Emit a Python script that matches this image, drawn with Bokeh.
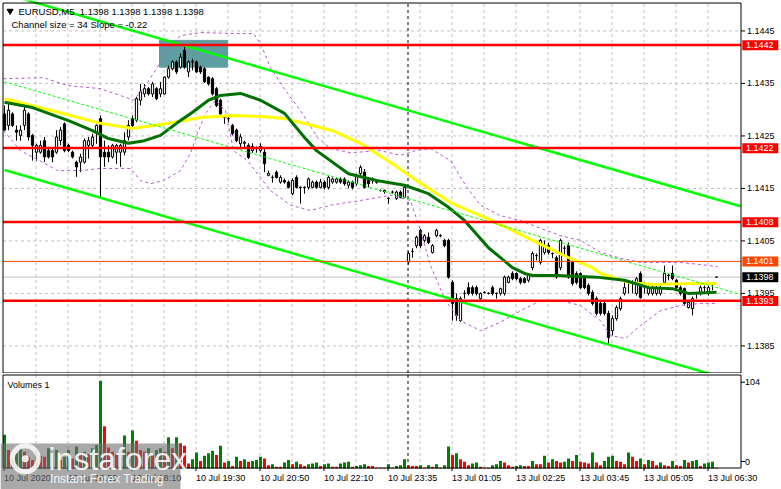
from bokeh.plotting import figure
from bokeh.layouts import column
from bokeh.models import Range1d, FixedTicker
from bokeh.core.properties import value
from bokeh.embed import file_html
from bokeh.resources import INLINE
import math

FONT = "Liberation Sans"

# ---------------- data (bar index 0..178, M5 bars) ----------------
opens = [1.14292,1.14270,1.14292,1.14261,1.14251,1.14270,1.14292,1.14251,1.14219,1.14219,
         1.14241,1.14222,1.14222,1.14219,1.14241,1.14273,1.14232,1.14219,1.14200,1.14200,
         1.14200,1.14232,1.14232,1.14257,1.14283,1.14219,1.14219,1.14210,1.14219,1.14219,
         1.14219,1.14248,1.14283,1.14280,1.14318,1.14330,1.14340,1.14330,1.14340,1.14330,
         1.14330,1.14362,1.14378,1.14391,1.14381,1.14413,1.14372,1.14391,1.14391,1.14381,
         1.14378,1.14362,1.14359,1.14340,1.14318,1.14287,1.14283,1.14270,1.14261,1.14235,
         1.14236,1.14232,1.14222,1.14228,1.14222,1.14219,1.14175,1.14171,1.14181,1.14162,
         1.14165,1.14162,1.14140,1.14171,1.14152,1.14152,1.14152,1.14152,1.14162,1.14152,
         1.14162,1.14152,1.14162,1.14162,1.14168,1.14168,1.14156,1.14162,1.14159,1.14178,
         1.14181,1.14165,1.14168,1.14162,1.14146,1.14146,1.14131,1.14143,1.14131,1.14143,
         1.14133,1.14010,1.14030,1.14041,1.14070,1.14051,1.14057,1.14028,1.14060,1.14060,
         1.14051,1.14051,1.13971,1.13940,1.13898,1.13950,1.13961,1.13961,1.13961,1.13940,
         1.13952,1.13950,1.13961,1.13950,1.13950,1.13950,1.13971,1.13988,1.13988,1.13978,
         1.13978,1.13975,1.13999,1.14022,1.14009,1.14028,1.14041,1.14026,1.14018,1.13999,
         1.14036,1.14041,1.14009,1.13988,1.13988,1.13981,1.13965,1.13952,1.13940,1.13931,
         1.13931,1.13912,1.13879,1.13902,1.13921,1.13950,1.13971,1.13971,1.13950,1.13988,
         1.13969,1.13950,1.13950,1.13950,1.13950,1.13971,1.13984,1.13988,1.13975,1.13961,
         1.13959,1.13923,1.13921,1.13950,1.13950,1.13961,1.13950,1.13969,1.13981]
highs = [1.14308,1.14314,1.14295,1.14270,1.14270,1.14308,1.14295,1.14254,1.14235,1.14241,
         1.14248,1.14226,1.14226,1.14261,1.14267,1.14276,1.14235,1.14222,1.14203,1.14216,
         1.14245,1.14248,1.14254,1.14272,1.14289,1.14241,1.14232,1.14235,1.14235,1.14235,
         1.14257,1.14280,1.14289,1.14324,1.14349,1.14349,1.14343,1.14353,1.14343,1.14353,
         1.14363,1.14384,1.14394,1.14394,1.14407,1.14422,1.14394,1.14397,1.14394,1.14384,
         1.14381,1.14363,1.14362,1.14343,1.14321,1.14289,1.14289,1.14273,1.14264,1.14254,
         1.14241,1.14236,1.14236,1.14230,1.14236,1.14225,1.14184,1.14175,1.14184,1.14175,
         1.14169,1.14165,1.14169,1.14175,1.14154,1.14154,1.14171,1.14165,1.14165,1.14168,
         1.14165,1.14175,1.14171,1.14171,1.14171,1.14171,1.14165,1.14165,1.14178,1.14194,
         1.14187,1.14168,1.14171,1.14165,1.14148,1.14148,1.14133,1.14146,1.14146,1.14146,
         1.14155,1.14030,1.14036,1.14060,1.14073,1.14063,1.14066,1.14044,1.14073,1.14063,
         1.14054,1.14054,1.13975,1.13950,1.13944,1.13956,1.13971,1.13965,1.13965,1.13952,
         1.13954,1.13952,1.13965,1.13952,1.13961,1.13984,1.13984,1.13992,1.13990,1.13981,
         1.13981,1.13988,1.14030,1.14026,1.14054,1.14051,1.14047,1.14028,1.14022,1.14054,
         1.14041,1.14047,1.14013,1.13992,1.13990,1.13984,1.13969,1.13956,1.13944,1.13936,
         1.13936,1.13917,1.13908,1.13927,1.13944,1.13975,1.13975,1.13975,1.13981,1.13992,
         1.13971,1.13965,1.13965,1.13965,1.13965,1.14003,1.13988,1.14003,1.13978,1.13965,
         1.13961,1.13936,1.13944,1.13952,1.13965,1.13965,1.13965,1.13971,1.13981]
lows = [1.14261,1.14261,1.14267,1.14241,1.14241,1.14261,1.14241,1.14203,1.14203,1.14216,
        1.14200,1.14207,1.14200,1.14216,1.14232,1.14219,1.14219,1.14207,1.14172,1.14181,
        1.14197,1.14207,1.14229,1.14235,1.14130,1.14191,1.14200,1.14207,1.14197,1.14191,
        1.14213,1.14241,1.14267,1.14276,1.14308,1.14324,1.14327,1.14324,1.14318,1.14324,
        1.14329,1.14359,1.14375,1.14368,1.14378,1.14378,1.14362,1.14375,1.14370,1.14368,
        1.14351,1.14346,1.14327,1.14305,1.14289,1.14273,1.14276,1.14251,1.14238,1.14229,
        1.14228,1.14206,1.14218,1.14218,1.14218,1.14181,1.14173,1.14161,1.14169,1.14159,
        1.14159,1.14150,1.14137,1.14150,1.14121,1.14140,1.14148,1.14150,1.14150,1.14150,
        1.14148,1.14148,1.14159,1.14159,1.14159,1.14155,1.14150,1.14148,1.14155,1.14171,
        1.14150,1.14152,1.14159,1.14159,1.14144,1.14140,1.14121,1.14140,1.14128,1.14131,
        1.14131,1.14005,1.14018,1.14036,1.14036,1.14047,1.14044,1.14026,1.14057,1.14057,
        1.14038,1.13978,1.13898,1.13898,1.13896,1.13940,1.13946,1.13946,1.13946,1.13938,
        1.13950,1.13948,1.13946,1.13940,1.13946,1.13946,1.13969,1.13975,1.13975,1.13967,
        1.13969,1.13971,1.13994,1.14013,1.14005,1.14024,1.14024,1.14017,1.13978,1.13994,
        1.14022,1.13978,1.13965,1.13967,1.13958,1.13958,1.13946,1.13927,1.13908,1.13908,
        1.13908,1.13851,1.13870,1.13898,1.13917,1.13946,1.13950,1.13950,1.13946,1.13940,
        1.13950,1.13946,1.13946,1.13946,1.13946,1.13967,1.13975,1.13975,1.13958,1.13946,
        1.13927,1.13921,1.13908,1.13940,1.13946,1.13950,1.13946,1.13956,1.13981]
closes = [1.14261,1.14299,1.14270,1.14257,1.14261,1.14299,1.14248,1.14232,1.14232,1.14232,
          1.14210,1.14210,1.14210,1.14248,1.14261,1.14222,1.14222,1.14210,1.14191,1.14210,
          1.14241,1.14241,1.14248,1.14270,1.14210,1.14210,1.14210,1.14232,1.14232,1.14232,
          1.14241,1.14270,1.14270,1.14321,1.14334,1.14340,1.14330,1.14349,1.14321,1.14340,
          1.14362,1.14378,1.14391,1.14372,1.14400,1.14381,1.14391,1.14392,1.14372,1.14372,
          1.14353,1.14349,1.14330,1.14308,1.14292,1.14285,1.14283,1.14254,1.14241,1.14248,
          1.14238,1.14209,1.14230,1.14228,1.14230,1.14197,1.14179,1.14171,1.14171,1.14171,
          1.14162,1.14152,1.14165,1.14152,1.14152,1.14152,1.14168,1.14162,1.14152,1.14162,
          1.14152,1.14171,1.14168,1.14168,1.14162,1.14159,1.14162,1.14152,1.14175,1.14190,
          1.14152,1.14159,1.14168,1.14162,1.14146,1.14144,1.14131,1.14143,1.14143,1.14133,
          1.14152,1.14026,1.14030,1.14057,1.14041,1.14060,1.14047,1.14041,1.14070,1.14060,
          1.14041,1.13981,1.13931,1.13908,1.13940,1.13950,1.13950,1.13950,1.13950,1.13950,
          1.13952,1.13950,1.13950,1.13950,1.13959,1.13981,1.13981,1.13978,1.13978,1.13971,
          1.13971,1.13984,1.14026,1.14022,1.14051,1.14041,1.14028,1.14026,1.13981,1.14051,
          1.14036,1.13981,1.13969,1.13971,1.13961,1.13961,1.13950,1.13931,1.13912,1.13912,
          1.13912,1.13866,1.13902,1.13923,1.13940,1.13961,1.13971,1.13971,1.13978,1.13942,
          1.13969,1.13961,1.13961,1.13961,1.13961,1.13988,1.13984,1.13978,1.13961,1.13950,
          1.13931,1.13933,1.13940,1.13950,1.13961,1.13961,1.13961,1.13969,1.13981]
volumes = [40,22,12,18,25,20,14,10,22,15,14,24,18,22,10,14,22,12,26,18,
           20,17,24,28,104,50,25,20,17,24,39,20,45,33,22,20,24,16,22,24,
           20,37,24,37,30,27,6,11,19,9,15,18,21,16,27,7,9,3,14,9,
           11,8,9,10,14,12,4,5,2,2,7,10,5,8,5,3,5,6,7,3,
           5,6,2,2,6,7,8,2,3,4,5,3,3,1,1,1,5,1,3,4,
           11,4,3,3,4,1,4,2,5,1,4,26,16,18,11,8,4,6,7,2,
           1,1,4,5,9,7,4,2,3,4,3,3,9,5,5,15,7,11,9,7,
           8,12,9,16,8,7,6,19,7,4,9,14,15,9,8,5,19,14,9,12,
           5,10,9,4,7,4,3,9,4,3,10,7,9,10,3,6,7,8,1]

# moving averages (bar index, price)
ma_fast_i = [0, 7, 16, 22, 26, 31, 35, 39, 43, 47, 51, 54, 59, 64, 70, 75, 78, 86, 93, 100,
             106, 111, 115, 121, 124, 127, 130, 132, 138, 148, 155, 161, 167, 171, 178]
ma_fast_p = [1.14314, 1.14304, 1.14279, 1.14260, 1.14245, 1.14236, 1.14241, 1.14251, 1.14274, 1.14295,
             1.14318, 1.14327, 1.14331, 1.14318, 1.14293, 1.14247, 1.14222, 1.14178, 1.14165, 1.14156,
             1.14140, 1.14114, 1.14089, 1.14037, 1.14018, 1.13999, 1.13988, 1.13984, 1.13984, 1.13981,
             1.13975, 1.13961, 1.13959, 1.13950, 1.13952]
ma_slow_i = [0, 12, 24, 32, 41, 49, 57, 64, 70, 77, 82, 89, 97, 103, 112, 120, 127, 132, 141,
             147, 149, 156, 162, 172, 178]
ma_slow_p = [1.14321, 1.14298, 1.14274, 1.14264, 1.14274, 1.14285, 1.14289, 1.14287, 1.14283, 1.14270,
             1.14260, 1.14236, 1.14197, 1.14165, 1.14121, 1.14095, 1.14070, 1.14051, 1.14018,
             1.13999, 1.13988, 1.13971, 1.13967, 1.13969, 1.13969]
bb_up_i = [-0.25, 9.75, 15.75, 24, 29, 32.25, 35.25, 37.75, 40.75, 44, 49, 57.25, 62.25, 64, 66.5,
           69.75, 74, 78.25, 81.5, 86.5, 94, 99, 102.75, 106.5, 111.5, 115.25, 119, 124, 129, 134,
           139, 144, 149, 154, 159, 164, 169, 174, 178.25]
bb_up_p = [1.14359, 1.14361, 1.14346, 1.14340, 1.14327, 1.14318, 1.14346, 1.14375, 1.14413, 1.14441,
           1.14447, 1.14445, 1.14445, 1.14426, 1.14380, 1.14342, 1.14298, 1.14247, 1.14226, 1.14218,
           1.14222, 1.14213, 1.14222, 1.14226, 1.14203, 1.14156, 1.14118, 1.14098, 1.14089, 1.14074,
           1.14060, 1.14051, 1.14028, 1.14017, 1.14009, 1.14009, 1.14009, 1.14005, 1.14001]
bb_lo_i = [-0.25, 4, 9.75, 13.25, 19, 24, 31.5, 34, 36.5, 39.75, 44, 46.5, 48.25, 50.25, 52.75,
           55.25, 57.25, 60.75, 63.25, 66.5, 71.5, 76.5, 81.5, 89, 96.5, 101.5, 104, 106.5, 110.25,
           114, 119, 124, 129, 134, 139, 144, 149, 151.5, 155.25, 159, 164, 169, 174, 178.25]
bb_lo_p = [1.14260, 1.14222, 1.14199, 1.14184, 1.14184, 1.14188, 1.14188, 1.14165, 1.14159, 1.14165,
           1.14184, 1.14217, 1.14255, 1.14293, 1.14318, 1.14298, 1.14222, 1.14203, 1.14178, 1.14146,
           1.14118, 1.14108, 1.14118, 1.14127, 1.14137, 1.14127, 1.14070, 1.14003, 1.13936, 1.13898,
           1.13879, 1.13895, 1.13917, 1.13936, 1.13936, 1.13927, 1.13898, 1.13870, 1.13864, 1.13889,
           1.13917, 1.13927, 1.13931, 1.13931]

# linear regression channel (middle line at first / last bar, half width)
chan_i = [0, 184]
chan_mid = [1.14353, 1.13948]
chan_half = 0.00168

# zone rectangle (bars, prices)
zone_i = [38.75, 55.75]
zone_p = [1.14381, 1.14432]

# horizontal levels
red_levels = [1.14423, 1.14227, 1.14086, 1.13936]
orange_level = 1.14011
price_ticks = [1.1385, 1.1395, 1.1405, 1.1415, 1.1425, 1.1435, 1.1445]
vol_ticks = [0, 104]
day_sep = 100.875

time_grid = [-0.25, 15.75, 31.75, 47.75, 63.75, 79.75, 95.75, 111.75, 127.75, 143.75, 159.75, 175.75]
time_text = ["10 Jul 2020", "10 Jul 16:50", "10 Jul 18:10", "10 Jul 19:30", "10 Jul 20:50",
             "10 Jul 22:10", "10 Jul 23:35", "13 Jul 01:05", "13 Jul 02:25", "13 Jul 03:45",
             "13 Jul 05:05", "13 Jul 06:30"]
vgrid = [7.875 + 8 * k for k in range(22)]

def trunc4(v):
    return "%.4f" % (math.floor(v * 10000 + 1e-6) / 10000)

n = len(closes)
idx = list(range(n))
last = closes[-1]

# frame geometry in data units (4 px per bar)
XL, XR = -0.375, 184.125          # plot-area left / right border
P_BOT, P_TOP = 1.137984, 1.145032  # price panel bottom / top border
V_BOT, V_TOP = 0.59, 110.89        # volume panel bottom / top border
PPX = 0.00001905                   # price per pixel
VPX = 1.186                        # volume per pixel

xr = Range1d(-1.0, 194.25)

def T(fig, x, y, txt, size="9px", color="black", align="left", alpha=1.0):
    fig.text(x=x, y=y, text=txt, text_font=value(FONT), text_font_size=value(size),
             text_color=color, text_align=align, text_baseline="middle", text_alpha=alpha)

# ---------------- main price panel ----------------
p = figure(width=781, height=373, x_range=xr, y_range=Range1d(1.137974, 1.14508),
           x_axis_location=None, y_axis_location=None, toolbar_location=None,
           output_backend="svg", min_border=0, outline_line_color=None,
           background_fill_color="white", border_fill_color="white")
p.grid.visible = False

# grid
p.segment(x0=vgrid, y0=[P_BOT] * len(vgrid), x1=vgrid, y1=[P_TOP] * len(vgrid),
          line_color="#C0C0C0", line_dash="3 3", line_width=1)
p.segment(x0=[XL] * len(price_ticks), y0=price_ticks, x1=[XR] * len(price_ticks), y1=price_ticks,
          line_color="#C0C0C0", line_dash="3 3", line_width=1)

# zone rectangle
p.quad(left=[zone_i[0]], right=[zone_i[1]], bottom=[zone_p[0]], top=[zone_p[1]],
       fill_color="#5F9EA0", line_color="#5F9EA0")

p.segment(x0=[day_sep], y0=[P_BOT], x1=[day_sep], y1=[P_TOP], line_color="black",
          line_dash="3 3", line_width=1)
p.segment(x0=[XL], y0=[last], x1=[XR], y1=[last], line_color="#C0C0C0", line_width=1)

# candles
p.segment(x0=idx, y0=lows, x1=idx, y1=highs, line_color="black", line_width=1)
up_i = [i for i in idx if closes[i] >= opens[i]]
dn_i = [i for i in idx if closes[i] < opens[i]]
p.vbar(x=up_i, width=0.55, top=[closes[i] for i in up_i], bottom=[opens[i] for i in up_i],
       fill_color="white", line_color="black", line_width=1)
p.vbar(x=dn_i, width=0.55, top=[opens[i] for i in dn_i], bottom=[closes[i] for i in dn_i],
       fill_color="black", line_color="black", line_width=1)

# bands and MAs
p.line(bb_up_i, bb_up_p, line_color="#BA55D3", line_width=1, line_dash="3 3")
p.line(bb_lo_i, bb_lo_p, line_color="#BA55D3", line_width=1, line_dash="3 3")
p.line(ma_slow_i, ma_slow_p, line_color="#FFFF00", line_width=3)
p.line(ma_fast_i, ma_fast_p, line_color="#007000", line_width=3)

# regression channel
p.line(chan_i, chan_mid, line_color="#00FF00", line_width=1, line_dash="3 2")
p.line(chan_i, [m + chan_half for m in chan_mid], line_color="#00FF00", line_width=2.5)
p.line(chan_i, [m - chan_half for m in chan_mid], line_color="#00FF00", line_width=2.5)

# horizontal levels
for lv in red_levels:
    p.line([XL, XR], [lv, lv], line_color="#FF0000", line_width=2.5)
p.line([XL, XR], [orange_level, orange_level], line_color="#FF4500", line_width=1)

# white right-hand scale area + border
p.quad(left=[XR], right=[194.25], bottom=[1.137974], top=[1.14508], fill_color="white", line_color=None)
p.quad(left=[XL], right=[XR], bottom=[P_BOT], top=[P_TOP], fill_color=None, line_color="black", line_width=1)

# price scale (ticks + labels)
p.segment(x0=[XR] * len(price_ticks), y0=price_ticks, x1=[XR + 1.0] * len(price_ticks), y1=price_ticks,
          line_color="black", line_width=1)
T(p, [185.6] * len(price_ticks), price_ticks, ["%.4f" % t for t in price_ticks])

# price boxes on the scale
box_levels = red_levels + [orange_level, last]
box_colors = ["#FF0000"] * len(red_levels) + ["#FF4500", "#000000"]
p.quad(left=[184.45] * len(box_levels), right=[193.45] * len(box_levels),
       bottom=[b - 5.2 * PPX for b in box_levels], top=[b + 4.8 * PPX for b in box_levels],
       fill_color=box_colors, line_color=None)
T(p, [185.35] * len(box_levels), box_levels, [trunc4(b) for b in box_levels], color="white")

# header
p.scatter(x=[1.4], y=[P_TOP - 8.0 * PPX], marker="inverted_triangle", size=6, color="black")
T(p, [3.5], [P_TOP - 8.2 * PPX],
  ["EURUSD,M5\u00a0\u00a0%s %s %s %s" % (trunc4(opens[-1]), trunc4(highs[-1]), trunc4(lows[-1]), trunc4(closes[-1]))],
  size="9.5px")
T(p, [1.75], [P_TOP - 21.5 * PPX], ["Channel size = 34 Slope = -0.22"], size="9.5px")

# ---------------- volume panel ----------------
v = figure(width=781, height=116, x_range=xr, y_range=Range1d(-24.9, 112.67),
           x_axis_location=None, y_axis_location=None, toolbar_location=None,
           output_backend="svg", min_border=0, outline_line_color=None,
           background_fill_color="white", border_fill_color="white")
v.grid.visible = False

v.segment(x0=vgrid, y0=[V_BOT] * len(vgrid), x1=vgrid, y1=[V_TOP] * len(vgrid),
          line_color="#C0C0C0", line_dash="3 3", line_width=1)
v.segment(x0=[day_sep], y0=[V_BOT], x1=[day_sep], y1=[V_TOP], line_color="black",
          line_dash="3 3", line_width=1)

vcol = ["#008000" if (i == 0 or volumes[i] > volumes[i - 1]) else "#FF0000" for i in idx]
v.vbar(x=idx, width=0.75, top=volumes, bottom=0, fill_color=vcol, line_color=None)

v.quad(left=[XL], right=[XR], bottom=[V_BOT], top=[V_TOP], fill_color=None, line_color="black", line_width=1)

# volume scale
vt_pos = [8.3, 102.3]
v.segment(x0=[XR] * 2, y0=vt_pos, x1=[XR + 1.0] * 2, y1=vt_pos, line_color="black", line_width=1)
T(v, [185.1] * 2, vt_pos, [str(t) for t in vol_ticks])
T(v, [0.75], [99.3], ["Volumes 1"])

# time scale
v.segment(x0=[g + 0.125 for g in time_grid], y0=[V_BOT] * len(time_grid),
          x1=[g + 0.125 for g in time_grid], y1=[-3.0] * len(time_grid), line_color="black", line_width=1)
T(v, [g + 0.15 for g in time_grid], [-11.5] * len(time_grid), time_text)

# watermark
v.quad(left=[-1.0], right=[44.0], bottom=[-24.9], top=[29.6], fill_color="#707070",
       fill_alpha=0.6, line_color=None)
v.scatter(x=[5.2], y=[11.5], marker="circle", size=26, fill_color=None, line_color="white",
          line_width=5, line_alpha=0.85)
v.scatter(x=[5.2], y=[11.5], marker="circle", size=7, fill_color="white", line_color=None, fill_alpha=0.85)
T(v, [11.0], [11.0], ["instaforex"], size="32px", color="white", alpha=0.9)
T(v, [11.4], [-12.5], ["Instant Forex Trading"], size="12px", color="white", alpha=0.9)

layout = column(p, v, spacing=0)
open("out.html", "w").write(file_html(layout, INLINE))
